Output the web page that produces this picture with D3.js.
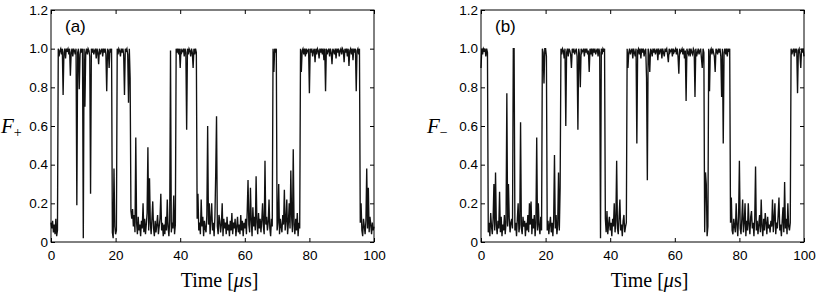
<!DOCTYPE html>
<html>
<head>
<meta charset="utf-8">
<script src="https://cdn.jsdelivr.net/npm/d3@7"></script>
<style>
body { margin: 0; background: #fff; }
.tick text { font-family: "Liberation Sans", Arial, sans-serif; font-size: 13.5px; fill: #000; }
.tick line { stroke: #000; }
</style>
</head>
<body>
<div id="chart"></div>
<script>
var timeTicks = [0, 20, 40, 60, 80, 100];
var fTicks = [0, 0.2, 0.4, 0.6, 0.8, 1.0, 1.2];
var sampleStep = 0.25; // us between samples

// F+ in percent, one value every 0.25 us (rows of 5 us)
var fPlus = [
  10,7,11,5,9,4,12,3,6,100,96,99,100,97,100,76,98,100,95,100,
  99,100,97,100,86,98,100,96,100,99,97,100,19,98,100,79,97,100,98,100,
  2,100,70,98,100,97,100,99,96,25,100,98,100,97,99,100,95,100,98,92,
  100,97,99,100,96,100,98,100,97,78,100,99,90,100,98,100,5,2,38,8,
  4,6,100,97,100,99,96,100,98,100,97,76,100,99,100,97,72,100,85,16,
  12,17,8,14,5,54,10,4,13,6,9,3,11,7,20,5,12,4,9,15,
  49,6,33,10,4,12,21,7,3,11,5,9,14,4,8,12,25,6,10,3,
  9,4,13,6,22,8,3,11,99,5,10,7,24,4,9,100,98,100,97,100,
  90,100,98,99,100,96,100,98,58,100,97,100,99,96,100,98,90,100,97,100,
  98,12,25,6,10,4,22,8,13,3,11,7,5,14,60,9,20,4,12,20,
  6,10,3,13,36,65,8,4,14,11,5,9,20,3,12,7,10,4,13,6,
  9,3,11,6,15,4,10,7,12,3,8,13,5,9,4,14,6,11,3,10,
  7,12,4,16,32,9,5,28,11,3,18,8,13,6,34,10,4,15,7,12,
  5,11,20,8,4,42,9,13,6,10,22,7,3,12,8,100,88,100,98,100,
  6,10,30,4,12,8,5,14,9,27,6,11,22,4,10,20,7,37,13,5,
  48,9,4,12,6,15,3,10,7,100,88,99,100,97,100,96,100,98,99,100,
  77,100,98,100,96,99,100,93,100,97,100,99,95,100,98,100,97,100,94,100,
  78,100,97,99,100,96,100,98,92,100,99,97,100,95,100,98,100,96,99,100,
  97,100,99,93,100,98,100,96,100,91,99,100,97,100,94,100,98,100,78,99,
  100,97,100,10,20,6,3,12,8,4,11,38,7,28,5,13,9,4,10,6,
  8
];

// F- in percent, same sampling
var fMinus = [
  90,100,97,100,99,100,96,100,98,5,10,3,15,8,4,12,30,6,36,9,
  4,11,7,26,5,13,3,9,6,14,4,10,77,8,30,12,5,10,12,7,
  100,100,6,10,3,12,20,5,9,62,7,4,13,8,11,3,10,6,14,5,
  20,9,21,4,12,7,14,3,10,54,6,20,8,4,13,6,100,98,82,100,
  100,96,6,11,4,9,13,5,10,3,12,45,7,14,4,9,36,6,28,100,
  97,100,99,95,100,60,98,100,96,100,99,97,90,100,98,100,97,99,100,96,
  58,100,97,80,100,98,99,100,96,100,98,100,97,99,88,100,97,100,96,100,
  98,100,97,99,100,96,100,98,2,100,97,100,99,100,12,5,16,4,9,13,
  6,10,3,12,8,20,5,11,42,7,4,13,22,6,9,3,11,14,5,8,
  10,100,90,98,100,97,99,100,95,100,98,96,100,51,99,100,97,100,95,100,
  98,100,96,99,100,85,32,100,97,88,100,99,96,100,98,100,97,99,100,94,
  100,97,99,100,95,100,98,96,100,99,100,97,93,100,98,99,100,96,100,98,
  99,100,97,100,96,87,100,98,99,100,97,100,95,99,73,100,98,97,100,96,
  100,98,97,100,99,75,100,96,98,100,97,99,100,95,90,100,98,5,36,30,
  3,8,100,78,99,100,97,100,98,96,88,100,99,97,100,98,100,96,75,100,
  51,98,100,97,100,96,100,99,100,10,23,6,4,12,8,5,20,9,3,13,
  42,7,4,12,22,5,10,20,3,11,6,20,9,4,13,16,7,10,3,12,
  39,6,11,4,9,14,5,22,8,3,12,6,15,10,4,13,7,9,5,11,
  8,22,5,12,20,4,10,7,14,23,6,9,3,11,18,5,31,7,12,4,
  20,8,6,10,100,97,99,100,96,100,98,100,77,99,100,97,90,100,98,100,
  96
];

var width = 818, height = 293;
var svg = d3.select("#chart").append("svg")
    .attr("width", width)
    .attr("height", height);

var fmt = function (d) { return d === 0 ? "0" : d3.format(".1f")(d); };

function drawPanel(values, left, tag, sign, labelX) {
    var plotW = 323, top = 10, bottom = 242;
    var x = d3.scaleLinear().domain([0, 100]).range([left, left + plotW]);
    var y = d3.scaleLinear().domain([0, 1.2]).range([bottom, top]);
    var g = svg.append("g");

    g.append("g")
        .attr("transform", "translate(0," + bottom + ")")
        .call(d3.axisBottom(x).tickValues(timeTicks).tickSizeInner(-4).tickSizeOuter(0).tickPadding(8));
    g.append("g")
        .attr("transform", "translate(0," + top + ")")
        .call(d3.axisTop(x).tickValues(timeTicks).tickSizeInner(-4).tickSizeOuter(0).tickFormat(""));
    g.append("g")
        .attr("transform", "translate(" + left + ",0)")
        .call(d3.axisLeft(y).tickValues(fTicks).tickSizeInner(-4).tickSizeOuter(0).tickPadding(3).tickFormat(fmt));
    g.append("g")
        .attr("transform", "translate(" + (left + plotW) + ",0)")
        .call(d3.axisRight(y).tickValues(fTicks).tickSizeInner(-4).tickSizeOuter(0).tickFormat(""));
    g.selectAll(".domain").remove();

    var line = d3.line()
        .x(function (d, i) { return x(i * sampleStep); })
        .y(function (d) { return y(d / 100); });

    g.append("path")
        .datum(values)
        .attr("d", line)
        .attr("fill", "none")
        .attr("stroke", "#111")
        .attr("stroke-width", 1.35);

    g.append("rect")
        .attr("x", left).attr("y", top)
        .attr("width", plotW).attr("height", bottom - top)
        .attr("fill", "none").attr("stroke", "#000").attr("stroke-width", 1);

    g.append("text")
        .attr("x", left + 14).attr("y", 32)
        .style("font-family", "Liberation Sans, Arial, sans-serif")
        .style("font-size", "17px")
        .text(tag);

    var lab = g.append("text")
        .attr("x", labelX).attr("y", 133)
        .style("font-family", "Liberation Serif, Times New Roman, serif")
        .style("font-size", "21px");
    lab.append("tspan").style("font-style", "italic").text("F");
    lab.append("tspan").attr("dy", 4).style("font-size", "14px").text(sign);

    g.append("text")
        .attr("x", left + plotW / 2 + 7).attr("y", 287)
        .attr("text-anchor", "middle")
        .style("font-family", "Liberation Serif, Times New Roman, serif")
        .style("font-size", "20px")
        .html("Time [<tspan font-style=\"italic\">μ</tspan>s]");
}

drawPanel(fPlus, 51, "(a)", "+", 1);
drawPanel(fMinus, 481, "(b)", "\u2212", 427);
</script>
</body>
</html>
